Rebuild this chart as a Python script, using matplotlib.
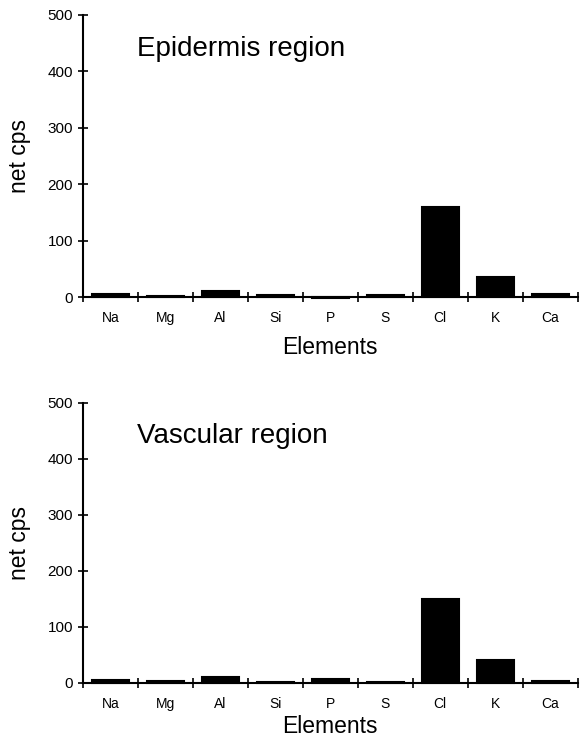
import matplotlib.pyplot as plt
import numpy as np

plt.rcParams['font.family'] = ['Liberation Sans', 'DejaVu Sans']

elements = ['Na', 'Mg', 'Al', 'Si', 'P', 'S', 'Cl', 'K', 'Ca']
epidermis = [5, 2, 10, 3, -2, 4, 160, 35, 5]
vascular = [5, 3, 10, 2, 7, 2, 150, 40, 4]
titles = ['Epidermis region', 'Vascular region']

fig = plt.figure(figsize=(5.8, 7.39), dpi=100)
ax1 = fig.add_axes([0.143, 0.598, 0.853, 0.382])
ax2 = fig.add_axes([0.143, 0.076, 0.853, 0.379])

x = np.arange(len(elements))
for ax, vals, title, lpad in zip([ax1, ax2], [epidermis, vascular], titles, [8, 3]):
    ax.bar(x, vals, width=0.68, color='black', edgecolor='black',
           linewidth=1.5, clip_on=False, zorder=3)
    ax.set_xlim(-0.5, len(elements) - 0.5)
    ax.set_ylim(0, 500)
    ax.set_yticks([0, 100, 200, 300, 400, 500])
    ax.set_xticks(x)
    ax.set_xticklabels(elements, fontsize=10)
    ax.set_xticks(np.arange(-0.5, len(elements)), minor=True)
    ax.tick_params(axis='x', which='major', length=0, pad=10)
    ax.tick_params(axis='x', which='minor', direction='inout', length=7, width=1.2)
    ax.tick_params(axis='y', direction='inout', length=7, width=1.2, labelsize=11)
    ax.spines['top'].set_visible(False)
    ax.spines['right'].set_visible(False)
    ax.spines['left'].set_linewidth(1.5)
    ax.spines['bottom'].set_linewidth(1.5)
    ax.set_xlabel('Elements', fontsize=16.5, labelpad=lpad)
    ax.set_ylabel('net cps', fontsize=16.5, labelpad=12)
    ax.text(0.11, 0.88, title, transform=ax.transAxes, fontsize=20, va='center')

fig.savefig('out.png', dpi=100)
